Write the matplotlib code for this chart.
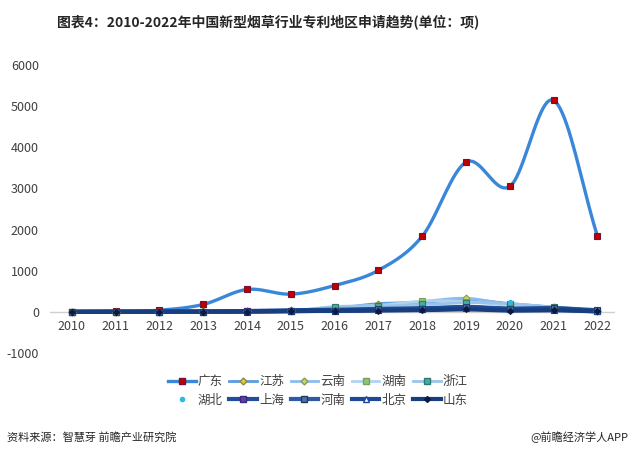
import matplotlib
matplotlib.use('Agg')
import matplotlib.pyplot as plt
import numpy as np

plt.rcParams['font.family'] = ['Noto Sans CJK SC', 'DejaVu Sans']
plt.rcParams['axes.unicode_minus'] = False

# 数据
years = list(range(2010, 2023))
guangdong = [5, 10, 40, 180, 545, 430, 640, 1010, 1840, 3640, 3050, 5140, 1840]
jiangsu = [2, 3, 5, 10, 20, 40, 90, 200, 230, 300, 200, 120, 30]
yunnan = [0, 1, 2, 5, 15, 30, 100, 170, 250, 330, 180, 100, 20]
hunan = [0, 0, 1, 3, 10, 20, 130, 150, 260, 250, 150, 90, 20]
zhejiang = [1, 2, 3, 6, 12, 25, 120, 140, 180, 220, 200, 110, 25]
hubei = [0, 0, 1, 2, 5, 10, 40, 60, 80, 120, 240, 80, 10]
shanghai = [1, 2, 3, 5, 10, 20, 30, 50, 60, 100, 60, 50, 15]
henan = [0, 0, 1, 2, 5, 15, 30, 60, 70, 120, 80, 90, 40]
beijing = [3, 4, 6, 10, 20, 40, 50, 70, 90, 110, 70, 80, 20]
shandong = [0, 1, 2, 3, 8, 20, 20, 30, 40, 60, 30, 40, 10]
yticks = [-1000, 0, 1000, 2000, 3000, 4000, 5000, 6000]


def smooth(x, y, n=20):
    # Catmull-Rom 平滑曲线（只用于绘制）
    x = np.asarray(x, float)
    y = np.asarray(y, float)
    px = np.concatenate([[2 * x[0] - x[1]], x, [2 * x[-1] - x[-2]]])
    py = np.concatenate([[2 * y[0] - y[1]], y, [2 * y[-1] - y[-2]]])
    xs, ys = [], []
    t = np.linspace(0, 1, n, endpoint=False)
    for i in range(1, len(px) - 2):
        p0, p1, p2, p3 = py[i - 1], py[i], py[i + 1], py[i + 2]
        q0, q1, q2, q3 = px[i - 1], px[i], px[i + 1], px[i + 2]
        ys.append(0.5 * (2 * p1 + (-p0 + p2) * t + (2 * p0 - 5 * p1 + 4 * p2 - p3) * t ** 2
                         + (-p0 + 3 * p1 - 3 * p2 + p3) * t ** 3))
        xs.append(0.5 * (2 * q1 + (-q0 + q2) * t + (2 * q0 - 5 * q1 + 4 * q2 - q3) * t ** 2
                         + (-q0 + 3 * q1 - 3 * q2 + q3) * t ** 3))
    xs.append([x[-1]])
    ys.append([y[-1]])
    return np.concatenate(xs), np.concatenate(ys)


fig = plt.figure(figsize=(6.33, 4.58), dpi=100)
ax = fig.add_axes([50 / 633, 1 - 353 / 458, 565 / 633, 288 / 458])

series = [
    ('广东', guangdong, '#3a87d9', 2.4, 's', '#c00000', '#7a1030', 5),
    ('江苏', jiangsu, '#5b9be0', 2.0, 'D', '#e8c84a', '#8a8a50', 3.5),
    ('云南', yunnan, '#8cbcec', 2.0, 'D', '#c8d860', '#8a9a50', 3.5),
    ('湖南', hunan, '#b0d4f0', 2.0, 's', '#8cc870', '#7aa060', 4.5),
    ('浙江', zhejiang, '#9cc4ea', 2.0, 's', '#40b0a0', '#307870', 4.5),
    ('湖北', hubei, 'none', 0, 'o', '#30b8e0', '#30b8e0', 3),
    ('上海', shanghai, '#1f4e9a', 3.0, 's', '#6a3ca0', '#3a2a80', 4.5),
    ('河南', henan, '#2a5aa8', 3.0, 's', '#5a7090', '#203a70', 4.5),
    ('北京', beijing, '#1c4a96', 3.0, '^', 'white', '#1c4a96', 4.5),
    ('山东', shandong, '#173f80', 3.0, 'D', '#0a1a40', '#0a1a40', 3),
]

ax.axhline(0, color='#d0d0d0', linewidth=1, zorder=1)

handles = []
for name, vals, lc, lw, mk, mfc, mec, ms in series:
    if lw > 0:
        sx, sy = smooth(years, vals)
        ax.plot(sx, sy, color=lc, linewidth=lw, zorder=2, solid_capstyle='round')
    ax.plot(years, vals, linestyle='none', marker=mk, markerfacecolor=mfc,
            markeredgecolor=mec, markersize=ms, markeredgewidth=0.8, zorder=3)
    h, = ax.plot([], [], color=lc if lw > 0 else 'none', linewidth=lw, marker=mk,
                 markerfacecolor=mfc, markeredgecolor=mec, markersize=ms, label=name)
    handles.append(h)

ax.set_xlim(2009.5, 2022.4)
ax.set_ylim(-1000, 6000)
ax.set_yticks(yticks)
ax.set_xticks(years)
ax.tick_params(axis='both', length=0, labelsize=9, colors='#404040')
ax.tick_params(axis='y', pad=8)
ax.tick_params(axis='x', pad=6)
for s in ['top', 'right', 'left']:
    ax.spines[s].set_visible(False)
ax.spines['bottom'].set_position(('data', 0))
ax.spines['bottom'].set_visible(False)

order = [0, 5, 1, 6, 2, 7, 3, 8, 4, 9]
fig.legend([handles[i] for i in order], [handles[i].get_label() for i in order],
           ncol=5, loc='center', bbox_to_anchor=(318 / 633, 1 - 391 / 458),
           frameon=False, fontsize=9, handlelength=2.2, handletextpad=0.2,
           columnspacing=0.5, labelspacing=0.45, labelcolor='#404040')

fig.text(57 / 633, 1 - 22 / 458, '图表4：2010-2022年中国新型烟草行业专利地区申请趋势(单位：项)',
         fontsize=10, fontweight='bold', color='#262626', ha='left', va='center')
fig.text(7 / 633, 1 - 437 / 458, '资料来源：智慧芽 前瞻产业研究院', fontsize=8,
         color='#262626', ha='left', va='center')
fig.text(628 / 633, 1 - 437 / 458, '@前瞻经济学人APP', fontsize=8,
         color='#262626', ha='right', va='center')

fig.savefig('out.png', dpi=100)
